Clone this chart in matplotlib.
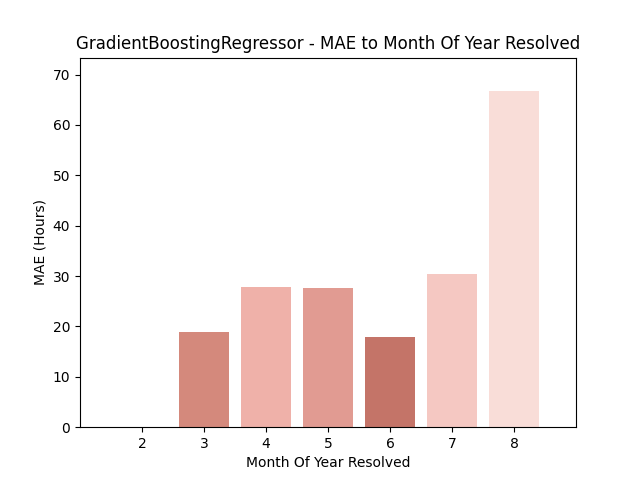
import matplotlib
matplotlib.use("Agg")
import matplotlib.pyplot as plt

months = [2, 3, 4, 5, 6, 7, 8]
mae = [0.0, 18.8, 27.8, 27.6, 17.9, 30.5, 66.7]
colors = ["#b8645a", "#d4897c", "#efb1a9", "#e19b92", "#c47468", "#f5c8c2", "#f9ddd8"]

fig, ax = plt.subplots(figsize=(6.4, 4.8), dpi=100)
ax.bar(months, mae, width=0.8, color=colors)
ax.set_xlim(1, 9)
ax.set_ylim(0, max(mae) * 1.1)
ax.set_xticks(months)
ax.set_xlabel("Month Of Year Resolved")
ax.set_ylabel("MAE (Hours)")
ax.set_title("GradientBoostingRegressor - MAE to Month Of Year Resolved")
fig.savefig("out.png")
